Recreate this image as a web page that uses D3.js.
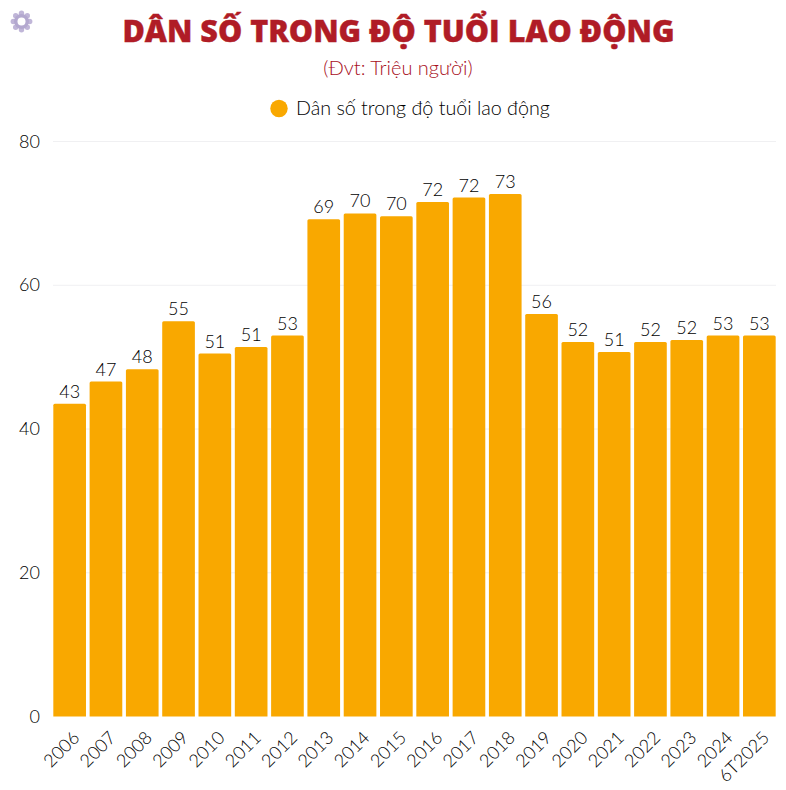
<!DOCTYPE html>
<html><head><meta charset="utf-8">
<script src="https://cdn.jsdelivr.net/npm/d3@7/dist/d3.min.js"></script>
<style>html,body{margin:0;padding:0;background:#fff}svg{display:block}</style>
</head><body><svg id="c" width="786" height="790"></svg>
<script>
const categories=["2006","2007","2008","2009","2010","2011","2012","2013","2014","2015","2016","2017","2018","2019","2020","2021","2022","2023","2024","6T2025"];
const values=[43.5,46.6,48.3,55,50.5,51.4,53,69.2,70,69.6,71.6,72.2,72.7,56,52.1,50.7,52.1,52.4,53,53];
const labels=[43,47,48,55,51,51,53,69,70,70,72,72,73,56,52,51,52,52,53,53];
const yTicks=[0,20,40,60,80];
const titleText="DÂN SỐ TRONG ĐỘ TUỔI LAO ĐỘNG";
const subtitleText="(Đvt: Triệu người)";
const seriesName="Dân số trong độ tuổi lao động";
const font="Lato, 'Open Sans', sans-serif";
const svg=d3.select("#c");
const x=d3.scaleBand().domain(categories).range([51.5,777.5]).paddingInner(0.1).paddingOuter(0.05);
const y=d3.scaleLinear().domain([0,80]).range([716.5,141.5]);
// gear
const g=svg.append("g").attr("transform","translate(21.5,21.5)");
d3.range(8).forEach(i=>g.append("circle").attr("cx",8.2*Math.cos(i*Math.PI/4)).attr("cy",8.2*Math.sin(i*Math.PI/4)).attr("r",2.7).attr("fill","#c0b6d8"));
g.append("circle").attr("r",7.5).attr("fill","#b3a8cf");
g.append("circle").attr("r",4).attr("fill","#fff");
// title
svg.append("text").attr("x",398.5).attr("y",42).attr("text-anchor","middle").attr("font-family","'Open Sans', sans-serif").attr("font-weight",800).attr("font-size",30.5).attr("fill","#b01c26").attr("stroke","#b01c26").attr("stroke-width",0.4).text(titleText);
svg.append("text").attr("x",398).attr("y",75).attr("text-anchor","middle").attr("font-family",font).attr("font-weight",300).attr("font-size",20).attr("fill","#a80f1c").text(subtitleText);
// legend
svg.append("circle").attr("cx",279).attr("cy",108.5).attr("r",8.7).attr("fill","#f9a800");
svg.append("text").attr("x",296).attr("y",115).attr("font-family",font).attr("font-weight",300).attr("font-size",19.7).attr("fill","#000").text(seriesName);
// grid
svg.append("g").selectAll("line").data(yTicks.filter(d=>d>0)).join("line").attr("x1",53).attr("x2",776).attr("y1",d=>y(d)).attr("y2",d=>y(d)).attr("stroke","#f0f0f2").attr("stroke-width",1);
// y axis
svg.append("g").selectAll("text").data(yTicks).join("text").attr("x",40).attr("y",d=>y(d)+6).attr("text-anchor","end").attr("font-family",font).attr("font-weight",300).attr("font-size",18).attr("fill","#000").text(d=>d);
// bars
svg.append("g").selectAll("path").data(values).join("path").attr("fill","#f9a800").attr("d",(d,i)=>{
 const a=x(categories[i]),w=x.bandwidth(),t=y(d),b=y(0),r=1.5;
 return `M${a},${b}V${t+r}Q${a},${t} ${a+r},${t}H${a+w-r}Q${a+w},${t} ${a+w},${t+r}V${b}Z`;});
// labels
svg.append("g").selectAll("text").data(values).join("text").attr("x",(d,i)=>x(categories[i])+x.bandwidth()/2).attr("y",d=>y(d)-6).attr("text-anchor","middle").attr("font-family",font).attr("font-weight",300).attr("font-size",18).attr("fill","#000").text((d,i)=>labels[i]);
// x labels
svg.append("g").selectAll("text").data(categories).join("text").attr("text-anchor","end").attr("font-family",font).attr("font-weight",300).attr("font-size",18).attr("fill","#000")
 .attr("transform",d=>`translate(${x(d)+x.bandwidth()/2+2},${730}) rotate(-45)`).attr("dy","0.7em").text(d=>d);
</script></body></html>
